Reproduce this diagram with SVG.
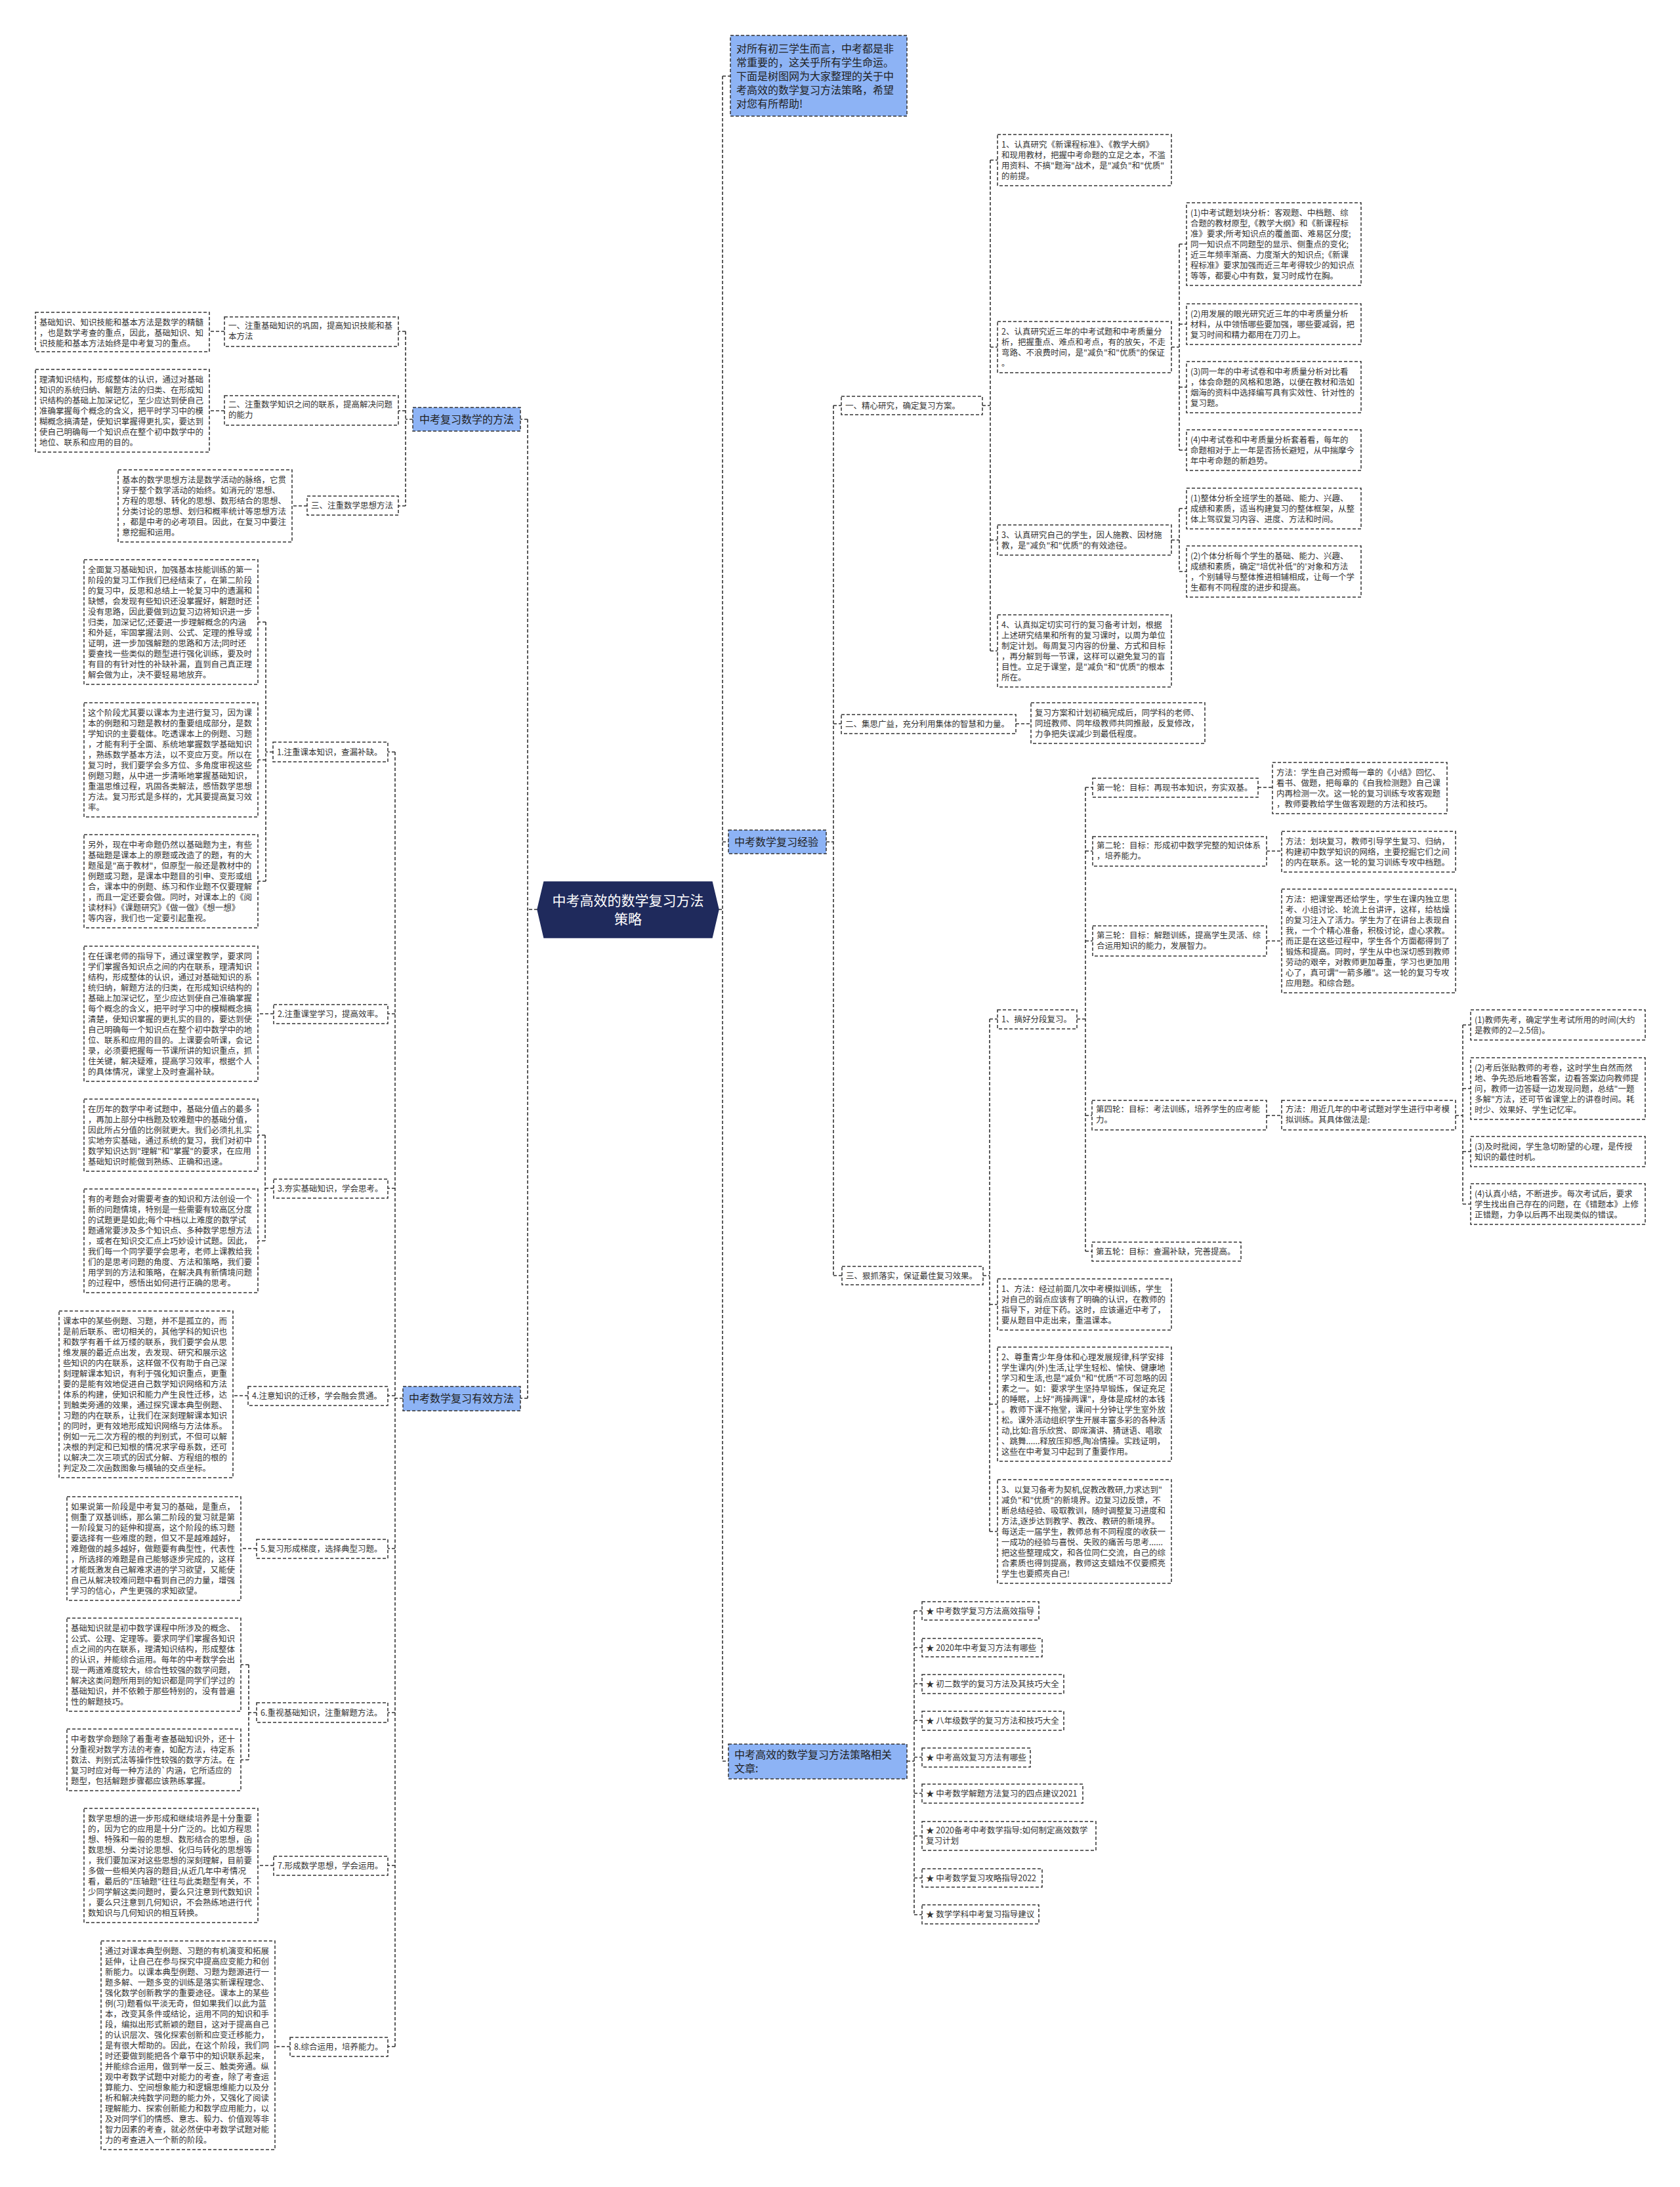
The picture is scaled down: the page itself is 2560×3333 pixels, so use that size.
<svg xmlns="http://www.w3.org/2000/svg" width="2560" height="3333" viewBox="0 0 2560 3333">
<style>
.n{fill:#fff;stroke:#333;stroke-width:1.5;stroke-dasharray:5 3}
.blue{fill:#8db3f5}
.t{font-family:"Noto Sans CJK SC","Microsoft YaHei",sans-serif;font-size:12.5px;fill:#333}
.h{font-size:16px;fill:#222}
.c{fill:none;stroke:#333;stroke-width:1.6;stroke-dasharray:5 3}
</style>
<rect width="2560" height="3333" fill="#fff"/>
<g id="connectors">
<path class="c" d="M1095 1386H1101M1101 116V2684M1101 116H1113M1101 1283H1110M1101 2684H1110"/>
<path class="c" d="M819 1386H804M804 639V2131M804 639H793M804 2131H793"/>
<path class="c" d="M629 639H618M618 505V771M618 505H607M618 626H607M618 771H607M342 505H319M342 626H319M468 771H445"/>
<path class="c" d="M614 2131H602M602 1146V3119M602 1146H591M602 1545H591M602 1811H591M602 2127H591M602 2360H591M602 2610H591M602 2843H591M602 3119H591"/>
<path class="c" d="M416 1146H405M405 948V1343M405 948H393M405 1158H393M405 1343H393M417 1545H393M417 1811H404M404 1730V1891M404 1730H393M404 1891H393M378 2127H355M391 2360H367M391 2610H379M379 2537V2682M379 2537H367M379 2682H367M417 2843H393M442 3119H419"/>
<path class="c" d="M1259 1283H1270M1270 618V1944M1270 618H1282M1270 1103H1282M1270 1944H1283"/>
<path class="c" d="M1497 618H1509M1509 244V992M1509 244H1520M1509 529H1520M1509 823H1520M1509 992H1520M1785 529H1797M1797 372V686M1797 372H1808M1797 494H1808M1797 590H1808M1797 686H1808M1785 823H1797M1797 775V871M1797 775H1808M1797 871H1808"/>
<path class="c" d="M1548 1103H1571"/>
<path class="c" d="M1498 1944H1508M1508 1553V2334M1508 1553H1520M1508 1988H1520M1508 2140H1520M1508 2334H1520"/>
<path class="c" d="M1641 1553H1654M1654 1200V1907M1654 1200H1665M1654 1297H1665M1654 1434H1665M1654 1700H1664M1654 1907H1664M1917 1200H1939M1930 1297H1953M1930 1434H1953M1930 1700H1953M2218 1700H2229M2229 1562V1835M2229 1562H2241M2229 1659H2241M2229 1755H2241M2229 1835H2241"/>
<path class="c" d="M1382 2684H1393M1393 2455V2918M1393 2455H1405M1393 2511H1405M1393 2566H1405M1393 2622H1405M1393 2678H1405M1393 2733H1405M1393 2798H1405M1393 2862H1405M1393 2918H1405"/>
</g>

<g id="center">
<polygon points="829,1344 1085,1344 1095,1386 1085,1429 829,1429 819,1386" fill="#1f2a5c" stroke="#1f2a5c" stroke-width="1.5"/>
<text class="t" x="957" y="1380" text-anchor="middle" style="font-size:21px;fill:#fff"><tspan x="957">中考高效的数学复习方法</tspan><tspan x="957" dy="28">策略</tspan></text>
</g>

<g id="intro">
<rect class="n blue" x="1113" y="54" width="269" height="123"/>
<text class="t h" x="1122" y="80"><tspan x="1122">对所有初三学生而言，中考都是非</tspan><tspan x="1122" dy="21">常重要的，这关乎所有学生命运。</tspan><tspan x="1122" dy="21">下面是树图网为大家整理的关于中</tspan><tspan x="1122" dy="21">考高效的数学复习方法策略，希望</tspan><tspan x="1122" dy="21">对您有所帮助!</tspan></text>
</g>

<!-- LEFT BRANCH 1 -->
<g id="L1">
<rect class="n blue" x="629" y="621" width="164" height="36"/>
<text class="t h" x="639" y="645">中考复习数学的方法</text>
</g>
<g id="L1a">
<rect class="n" x="342" y="483" width="265" height="45"/>
<text class="t" x="348" y="501"><tspan x="348">一、注重基础知识的巩固，提高知识技能和基</tspan><tspan x="348" dy="16">本方法</tspan></text>
</g>
<g id="L1a1">
<rect class="n" x="54" y="476" width="265" height="60"/>
<text class="t" x="60" y="496"><tspan x="60">基础知识、知识技能和基本方法是数学的精髓</tspan><tspan x="60" dy="16">，也是数学考查的重点，因此，基础知识、知</tspan><tspan x="60" dy="16">识技能和基本方法始终是中考复习的重点。</tspan></text>
</g>
<g id="L1b">
<rect class="n" x="342" y="603" width="265" height="45"/>
<text class="t" x="348" y="621"><tspan x="348">二、注重数学知识之间的联系，提高解决问题</tspan><tspan x="348" dy="16">的能力</tspan></text>
</g>
<g id="L1b1">
<rect class="n" x="54" y="563" width="265" height="126"/>
<text class="t" x="60" y="583"><tspan x="60">理清知识结构，形成整体的认识，通过对基础</tspan><tspan x="60" dy="16">知识的系统归纳、解题方法的归类、在形成知</tspan><tspan x="60" dy="16">识结构的基础上加深记忆，至少应达到使自己</tspan><tspan x="60" dy="16">准确掌握每个概念的含义，把平时学习中的模</tspan><tspan x="60" dy="16">糊概念搞清楚，使知识掌握得更扎实，要达到</tspan><tspan x="60" dy="16">使自己明确每一个知识点在整个初中数学中的</tspan><tspan x="60" dy="16">地位、联系和应用的目的。</tspan></text>
</g>
<g id="L1c">
<rect class="n" x="468" y="756" width="139" height="29"/>
<text class="t" x="474" y="775">三、注重数学思想方法</text>
</g>
<g id="L1c1">
<rect class="n" x="180" y="716" width="265" height="110"/>
<text class="t" x="186" y="736"><tspan x="186">基本的数学思想方法是数学活动的脉络，它贯</tspan><tspan x="186" dy="16">穿于整个数学活动的始终。如消元的'思想、</tspan><tspan x="186" dy="16">方程的思想、转化的思想、数形结合的思想、</tspan><tspan x="186" dy="16">分类讨论的思想、划归和概率统计等思想方法</tspan><tspan x="186" dy="16">，都是中考的必考项目。因此，在复习中要注</tspan><tspan x="186" dy="16">意挖掘和运用。</tspan></text>
</g>

<!-- LEFT BRANCH 2 -->
<g id="L2">
<rect class="n blue" x="614" y="2113" width="179" height="37"/>
<text class="t h" x="623" y="2137">中考数学复习有效方法</text>
</g>
<g id="S1">
<rect class="n" x="416" y="1131" width="175" height="30"/>
<text class="t" x="422" y="1151">1.注重课本知识，查漏补缺。</text>
</g>
<g id="T1a">
<rect class="n" x="128" y="853" width="265" height="190"/>
<text class="t" x="134" y="873"><tspan x="134">全面复习基础知识，加强基本技能训练的第一</tspan><tspan x="134" dy="16">阶段的复习工作我们已经结束了，在第二阶段</tspan><tspan x="134" dy="16">的复习中，反思和总结上一轮复习中的遗漏和</tspan><tspan x="134" dy="16">缺憾，会发现有些知识还没掌握好，解题时还</tspan><tspan x="134" dy="16">没有思路，因此要做到边复习边将知识进一步</tspan><tspan x="134" dy="16">归类，加深记忆;还要进一步理解概念的内涵</tspan><tspan x="134" dy="16">和外延，牢固掌握法则、公式、定理的推导或</tspan><tspan x="134" dy="16">证明，进一步加强解题的思路和方法;同时还</tspan><tspan x="134" dy="16">要查找一些类似的题型进行强化训练，要及时</tspan><tspan x="134" dy="16">有目的有针对性的补缺补漏，直到自己真正理</tspan><tspan x="134" dy="16">解会做为止，决不要轻易地放弃。</tspan></text>
</g>
<g id="T1b">
<rect class="n" x="128" y="1071" width="265" height="174"/>
<text class="t" x="134" y="1091"><tspan x="134">这个阶段尤其要以课本为主进行复习，因为课</tspan><tspan x="134" dy="16">本的例题和习题是教材的重要组成部分，是数</tspan><tspan x="134" dy="16">学知识的主要载体。吃透课本上的例题、习题</tspan><tspan x="134" dy="16">，才能有利于全面、系统地掌握数学基础知识</tspan><tspan x="134" dy="16">，熟练数学基本方法，以不变应万变。所以在</tspan><tspan x="134" dy="16">复习时，我们要学会多方位、多角度审视这些</tspan><tspan x="134" dy="16">例题习题，从中进一步清晰地掌握基础知识，</tspan><tspan x="134" dy="16">重温思维过程，巩固各类解法，感悟数学思想</tspan><tspan x="134" dy="16">方法。复习形式是多样的，尤其要提高复习效</tspan><tspan x="134" dy="16">率。</tspan></text>
</g>
<g id="T1c">
<rect class="n" x="128" y="1272" width="265" height="142"/>
<text class="t" x="134" y="1292"><tspan x="134">另外，现在中考命题仍然以基础题为主，有些</tspan><tspan x="134" dy="16">基础题是课本上的原题或改造了的题，有的大</tspan><tspan x="134" dy="16">题虽是"高于教材"，但原型一般还是教材中的</tspan><tspan x="134" dy="16">例题或习题，是课本中题目的引申、变形或组</tspan><tspan x="134" dy="16">合，课本中的例题、练习和作业题不仅要理解</tspan><tspan x="134" dy="16">，而且一定还要会做。同时，对课本上的《阅</tspan><tspan x="134" dy="16">读材料》《课题研究》《做一做》《想一想》</tspan><tspan x="134" dy="16">等内容，我们也一定要引起重视。</tspan></text>
</g>
<g id="S2">
<rect class="n" x="417" y="1531" width="174" height="29"/>
<text class="t" x="423" y="1550">2.注重课堂学习，提高效率。</text>
</g>
<g id="T2">
<rect class="n" x="128" y="1442" width="265" height="206"/>
<text class="t" x="134" y="1462"><tspan x="134">在任课老师的指导下，通过课堂教学，要求同</tspan><tspan x="134" dy="16">学们掌握各知识点之间的内在联系，理清知识</tspan><tspan x="134" dy="16">结构，形成整体的认识，通过对基础知识的系</tspan><tspan x="134" dy="16">统归纳，解题方法的归类，在形成知识结构的</tspan><tspan x="134" dy="16">基础上加深记忆，至少应达到使自己准确掌握</tspan><tspan x="134" dy="16">每个概念的含义，把平时学习中的模糊概念搞</tspan><tspan x="134" dy="16">清楚，使知识掌握的更扎实的目的，要达到使</tspan><tspan x="134" dy="16">自己明确每一个知识点在整个初中数学中的地</tspan><tspan x="134" dy="16">位、联系和应用的目的。上课要会听课，会记</tspan><tspan x="134" dy="16">录，必须要把握每一节课所讲的知识重点，抓</tspan><tspan x="134" dy="16">住关键，解决疑难，提高学习效率，根据个人</tspan><tspan x="134" dy="16">的具体情况，课堂上及时查漏补缺。</tspan></text>
</g>
<g id="S3">
<rect class="n" x="417" y="1797" width="174" height="29"/>
<text class="t" x="423" y="1816">3.夯实基础知识，学会思考。</text>
</g>
<g id="T3a">
<rect class="n" x="128" y="1675" width="265" height="110"/>
<text class="t" x="134" y="1695"><tspan x="134">在历年的数学中考试题中，基础分值占的最多</tspan><tspan x="134" dy="16">，再加上部分中档题及较难题中的基础分值，</tspan><tspan x="134" dy="16">因此所占分值的比例就更大。我们必须扎扎实</tspan><tspan x="134" dy="16">实地夯实基础，通过系统的复习，我们对初中</tspan><tspan x="134" dy="16">数学知识达到"理解"和"掌握"的要求，在应用</tspan><tspan x="134" dy="16">基础知识时能做到熟练、正确和迅速。</tspan></text>
</g>
<g id="T3b">
<rect class="n" x="128" y="1812" width="265" height="158"/>
<text class="t" x="134" y="1832"><tspan x="134">有的考题会对需要考查的知识和方法创设一个</tspan><tspan x="134" dy="16">新的问题情境，特别是一些需要有较高区分度</tspan><tspan x="134" dy="16">的试题更是如此;每个中档以上难度的数学试</tspan><tspan x="134" dy="16">题通常要涉及多个知识点、多种数学思想方法</tspan><tspan x="134" dy="16">，或者在知识交汇点上巧妙设计试题。因此，</tspan><tspan x="134" dy="16">我们每一个同学要学会思考，老师上课教给我</tspan><tspan x="134" dy="16">们的是思考问题的角度、方法和策略，我们要</tspan><tspan x="134" dy="16">用学到的方法和策略，在解决具有新情境问题</tspan><tspan x="134" dy="16">的过程中，感悟出如何进行正确的思考。</tspan></text>
</g>
<g id="S4">
<rect class="n" x="378" y="2113" width="213" height="29"/>
<text class="t" x="384" y="2132">4.注意知识的迁移，学会融会贯通。</text>
</g>
<g id="T4">
<rect class="n" x="90" y="1998" width="265" height="254"/>
<text class="t" x="96" y="2018"><tspan x="96">课本中的某些例题、习题，并不是孤立的，而</tspan><tspan x="96" dy="16">是前后联系、密切相关的，其他学科的知识也</tspan><tspan x="96" dy="16">和数学有着千丝万缕的联系，我们要学会从思</tspan><tspan x="96" dy="16">维发展的最近点出发，去发现、研究和展示这</tspan><tspan x="96" dy="16">些知识的内在联系，这样做不仅有助于自己深</tspan><tspan x="96" dy="16">刻理解课本知识，有利于强化知识重点，更重</tspan><tspan x="96" dy="16">要的是能有效地促进自己数学知识网络和方法</tspan><tspan x="96" dy="16">体系的构建，使知识和能力产生良性迁移，达</tspan><tspan x="96" dy="16">到触类旁通的效果，通过探究课本典型例题、</tspan><tspan x="96" dy="16">习题的内在联系，让我们在深刻理解课本知识</tspan><tspan x="96" dy="16">的同时，更有效地形成知识网络与方法体系。</tspan><tspan x="96" dy="16">例如一元二次方程的根的判别式，不但可以解</tspan><tspan x="96" dy="16">决根的判定和已知根的情况求字母系数，还可</tspan><tspan x="96" dy="16">以解决二次三项式的因式分解、方程组的根的</tspan><tspan x="96" dy="16">判定及二次函数图象与横轴的交点坐标。</tspan></text>
</g>
<g id="S5">
<rect class="n" x="391" y="2346" width="200" height="29"/>
<text class="t" x="397" y="2365">5.复习形成梯度，选择典型习题。</text>
</g>
<g id="T5">
<rect class="n" x="102" y="2281" width="265" height="158"/>
<text class="t" x="108" y="2301"><tspan x="108">如果说第一阶段是中考复习的基础，是重点，</tspan><tspan x="108" dy="16">侧重了双基训练，那么第二阶段的复习就是第</tspan><tspan x="108" dy="16">一阶段复习的延伸和提高，这个阶段的练习题</tspan><tspan x="108" dy="16">要选择有一些难度的题，但又不是越难越好，</tspan><tspan x="108" dy="16">难题做的越多越好，做题要有典型性，代表性</tspan><tspan x="108" dy="16">，所选择的难题是自己能够逐步完成的，这样</tspan><tspan x="108" dy="16">才能既激发自己解难求进的学习欲望，又能使</tspan><tspan x="108" dy="16">自己从解决较难问题中看到自己的力量，增强</tspan><tspan x="108" dy="16">学习的信心，产生更强的求知欲望。</tspan></text>
</g>
<g id="S6">
<rect class="n" x="391" y="2595" width="200" height="30"/>
<text class="t" x="397" y="2615">6.重视基础知识，注重解题方法。</text>
</g>
<g id="T6a">
<rect class="n" x="102" y="2466" width="265" height="142"/>
<text class="t" x="108" y="2486"><tspan x="108">基础知识就是初中数学课程中所涉及的概念、</tspan><tspan x="108" dy="16">公式、公理、定理等。要求同学们掌握各知识</tspan><tspan x="108" dy="16">点之间的内在联系，理清知识结构，形成整体</tspan><tspan x="108" dy="16">的认识，并能综合运用。每年的中考数学会出</tspan><tspan x="108" dy="16">现一两道难度较大，综合性较强的数学问题，</tspan><tspan x="108" dy="16">解决这类问题所用到的知识都是同学们学过的</tspan><tspan x="108" dy="16">基础知识，并不依赖于那些特别的，没有普遍</tspan><tspan x="108" dy="16">性的解题技巧。</tspan></text>
</g>
<g id="T6b">
<rect class="n" x="102" y="2635" width="265" height="94"/>
<text class="t" x="108" y="2655"><tspan x="108">中考数学命题除了着重考查基础知识外，还十</tspan><tspan x="108" dy="16">分重视对数学方法的考查，如配方法，待定系</tspan><tspan x="108" dy="16">数法、判别式法等操作性较强的数学方法。在</tspan><tspan x="108" dy="16">复习时应对每一种方法的`内涵，它所适应的</tspan><tspan x="108" dy="16">题型，包括解题步骤都应该熟练掌握。</tspan></text>
</g>
<g id="S7">
<rect class="n" x="417" y="2829" width="174" height="29"/>
<text class="t" x="423" y="2848">7.形成数学思想，学会运用。</text>
</g>
<g id="T7">
<rect class="n" x="128" y="2756" width="265" height="174"/>
<text class="t" x="134" y="2776"><tspan x="134">数学思想的进一步形成和继续培养是十分重要</tspan><tspan x="134" dy="16">的，因为它的应用是十分广泛的。比如方程思</tspan><tspan x="134" dy="16">想、特殊和一般的思想、数形结合的思想，函</tspan><tspan x="134" dy="16">数思想、分类讨论思想、化归与转化的思想等</tspan><tspan x="134" dy="16">，我们要加深对这些思想的深刻理解，目前要</tspan><tspan x="134" dy="16">多做一些相关内容的题目;从近几年中考情况</tspan><tspan x="134" dy="16">看，最后的"压轴题"往往与此类题型有关，不</tspan><tspan x="134" dy="16">少同学解这类问题时，要么只注意到代数知识</tspan><tspan x="134" dy="16">，要么只注意到几何知识，不会熟练地进行代</tspan><tspan x="134" dy="16">数知识与几何知识的相互转换。</tspan></text>
</g>
<g id="S8">
<rect class="n" x="442" y="3105" width="149" height="29"/>
<text class="t" x="448" y="3124">8.综合运用，培养能力。</text>
</g>
<g id="T8">
<rect class="n" x="154" y="2958" width="265" height="318"/>
<text class="t" x="160" y="2978"><tspan x="160">通过对课本典型例题、习题的有机演变和拓展</tspan><tspan x="160" dy="16">延伸，让自己在参与探究中提高应变能力和创</tspan><tspan x="160" dy="16">新能力。以课本典型例题、习题为题源进行一</tspan><tspan x="160" dy="16">题多解、一题多变的训练是落实新课程理念、</tspan><tspan x="160" dy="16">强化数学创新教学的重要途径。课本上的某些</tspan><tspan x="160" dy="16">例(习)题看似平淡无奇，但如果我们以此为蓝</tspan><tspan x="160" dy="16">本，改变其条件或结论，运用不同的知识和手</tspan><tspan x="160" dy="16">段，编拟出形式新颖的题目，这对于提高自己</tspan><tspan x="160" dy="16">的认识层次、强化探索创新和应变迁移能力，</tspan><tspan x="160" dy="16">是有很大帮助的。因此，在这个阶段，我们同</tspan><tspan x="160" dy="16">时还要做到能把各个章节中的知识联系起来，</tspan><tspan x="160" dy="16">并能综合运用，做到举一反三、触类旁通。纵</tspan><tspan x="160" dy="16">观中考数学试题中对能力的考查，除了考查运</tspan><tspan x="160" dy="16">算能力、空间想象能力和逻辑思维能力以及分</tspan><tspan x="160" dy="16">析和解决纯数学问题的能力外，又强化了阅读</tspan><tspan x="160" dy="16">理解能力、探索创新能力和数学应用能力，以</tspan><tspan x="160" dy="16">及对同学们的情感、意志、毅力、价值观等非</tspan><tspan x="160" dy="16">智力因素的考查，就必然使中考数学试题对能</tspan><tspan x="160" dy="16">力的考查进入一个新的阶段。</tspan></text>
</g>

<!-- RIGHT BRANCH -->
<g id="R">
<rect class="n blue" x="1110" y="1265" width="149" height="36"/>
<text class="t h" x="1119" y="1289">中考数学复习经验</text>
</g>
<g id="R1">
<rect class="n" x="1282" y="604" width="215" height="28"/>
<text class="t" x="1288" y="623">一、精心研究，确定复习方案。</text>
</g>
<g id="R1-1">
<rect class="n" x="1520" y="205" width="265" height="78"/>
<text class="t" x="1526" y="225"><tspan x="1526">1、认真研究《新课程标准》、《教学大纲》</tspan><tspan x="1526" dy="16">和现用教材，把握中考命题的立足之本，不滥</tspan><tspan x="1526" dy="16">用资料、不搞"题海"战术，是"减负"和"优质"</tspan><tspan x="1526" dy="16">的前提。</tspan></text>
</g>
<g id="R1-2">
<rect class="n" x="1520" y="490" width="265" height="78"/>
<text class="t" x="1526" y="510"><tspan x="1526">2、认真研究近三年的中考试题和中考质量分</tspan><tspan x="1526" dy="16">析，把握重点、难点和考点，有的放矢，不走</tspan><tspan x="1526" dy="16">弯路、不浪费时间，是"减负"和"优质"的保证</tspan><tspan x="1526" dy="16">。</tspan></text>
</g>
<g id="R1-2-1">
<rect class="n" x="1808" y="309" width="266" height="126"/>
<text class="t" x="1814" y="329"><tspan x="1814">(1)中考试题划块分析：客观题、中档题、综</tspan><tspan x="1814" dy="16">合题的教材原型,《教学大纲》和《新课程标</tspan><tspan x="1814" dy="16">准》要求;所考知识点的覆盖面、难易区分度;</tspan><tspan x="1814" dy="16">同一知识点不同题型的显示、侧重点的变化;</tspan><tspan x="1814" dy="16">近三年频率渐高、力度渐大的知识点;《新课</tspan><tspan x="1814" dy="16">程标准》要求加强而近三年考得较少的知识点</tspan><tspan x="1814" dy="16">等等，都要心中有数，复习时成竹在胸。</tspan></text>
</g>
<g id="R1-2-2">
<rect class="n" x="1808" y="463" width="266" height="62"/>
<text class="t" x="1814" y="483"><tspan x="1814">(2)用发展的眼光研究近三年的中考质量分析</tspan><tspan x="1814" dy="16">材料，从中领悟哪些要加强，哪些要减弱，把</tspan><tspan x="1814" dy="16">复习时间和精力都用在刀刃上。</tspan></text>
</g>
<g id="R1-2-3">
<rect class="n" x="1808" y="551" width="266" height="78"/>
<text class="t" x="1814" y="571"><tspan x="1814">(3)同一年的中考试卷和中考质量分析对比看</tspan><tspan x="1814" dy="16">，体会命题的风格和思路，以便在教材和浩如</tspan><tspan x="1814" dy="16">烟海的资料中选择编写具有实效性、针对性的</tspan><tspan x="1814" dy="16">复习题。</tspan></text>
</g>
<g id="R1-2-4">
<rect class="n" x="1808" y="655" width="266" height="62"/>
<text class="t" x="1814" y="675"><tspan x="1814">(4)中考试卷和中考质量分析套着看，每年的</tspan><tspan x="1814" dy="16">命题相对于上一年是否扬长避短，从中揣摩今</tspan><tspan x="1814" dy="16">年中考命题的新趋势。</tspan></text>
</g>
<g id="R1-3">
<rect class="n" x="1520" y="800" width="265" height="46"/>
<text class="t" x="1526" y="820"><tspan x="1526">3、认真研究自己的学生，因人施教、因材施</tspan><tspan x="1526" dy="16">教，是"减负"和"优质"的有效途径。</tspan></text>
</g>
<g id="R1-3-1">
<rect class="n" x="1808" y="744" width="266" height="62"/>
<text class="t" x="1814" y="764"><tspan x="1814">(1)整体分析全班学生的基础、能力、兴趣、</tspan><tspan x="1814" dy="16">成绩和素质，适当构建复习的整体框架，从整</tspan><tspan x="1814" dy="16">体上驾驭复习内容、进度、方法和时间。</tspan></text>
</g>
<g id="R1-3-2">
<rect class="n" x="1808" y="832" width="266" height="78"/>
<text class="t" x="1814" y="852"><tspan x="1814">(2)个体分析每个学生的基础、能力、兴趣、</tspan><tspan x="1814" dy="16">成绩和素质，确定"培优补低"的'对象和方法</tspan><tspan x="1814" dy="16">，个别辅导与整体推进相辅相成，让每一个学</tspan><tspan x="1814" dy="16">生都有不同程度的进步和提高。</tspan></text>
</g>
<g id="R1-4">
<rect class="n" x="1520" y="937" width="265" height="110"/>
<text class="t" x="1526" y="957"><tspan x="1526">4、认真拟定切实可行的复习备考计划，根据</tspan><tspan x="1526" dy="16">上述研究结果和所有的复习课时，以周为单位</tspan><tspan x="1526" dy="16">制定计划。每周复习内容的份量、方式和目标</tspan><tspan x="1526" dy="16">，再分解到每一节课，这样可以避免复习的盲</tspan><tspan x="1526" dy="16">目性。立足于课堂，是"减负"和"优质"的根本</tspan><tspan x="1526" dy="16">所在。</tspan></text>
</g>
<g id="R2">
<rect class="n" x="1282" y="1089" width="266" height="29"/>
<text class="t" x="1288" y="1108">二、集思广益，充分利用集体的智慧和力量。</text>
</g>
<g id="R2-1">
<rect class="n" x="1571" y="1071" width="265" height="62"/>
<text class="t" x="1577" y="1091"><tspan x="1577">复习方案和计划初稿完成后，同学科的老师、</tspan><tspan x="1577" dy="16">同班教师、同年级教师共同推敲，反复修改，</tspan><tspan x="1577" dy="16">力争把失误减少到最低程度。</tspan></text>
</g>
<g id="R3">
<rect class="n" x="1283" y="1930" width="215" height="28"/>
<text class="t" x="1289" y="1949">三、狠抓落实，保证最佳复习效果。</text>
</g>
<g id="R3-1">
<rect class="n" x="1520" y="1539" width="121" height="29"/>
<text class="t" x="1526" y="1558">1、搞好分段复习。</text>
</g>
<g id="W1">
<rect class="n" x="1665" y="1186" width="252" height="29"/>
<text class="t" x="1671" y="1205">第一轮：目标：再现书本知识，夯实双基。</text>
</g>
<g id="M1">
<rect class="n" x="1939" y="1162" width="266" height="78"/>
<text class="t" x="1945" y="1182"><tspan x="1945">方法：学生自己对照每一章的《小结》回忆、</tspan><tspan x="1945" dy="16">看书、做题，把每章的《自我检测题》自己课</tspan><tspan x="1945" dy="16">内再检测一次。这一轮的复习训练专攻客观题</tspan><tspan x="1945" dy="16">，教师要教给学生做客观题的方法和技巧。</tspan></text>
</g>
<g id="W2">
<rect class="n" x="1665" y="1275" width="265" height="45"/>
<text class="t" x="1671" y="1293"><tspan x="1671">第二轮：目标：形成初中数学完整的知识体系</tspan><tspan x="1671" dy="16">，培养能力。</tspan></text>
</g>
<g id="M2">
<rect class="n" x="1953" y="1267" width="265" height="62"/>
<text class="t" x="1959" y="1287"><tspan x="1959">方法：划块复习，教师引导学生复习、归纳，</tspan><tspan x="1959" dy="16">构建初中数学知识的网络，主要挖掘它们之间</tspan><tspan x="1959" dy="16">的内在联系。这一轮的复习训练专攻中档题。</tspan></text>
</g>
<g id="W3">
<rect class="n" x="1665" y="1411" width="265" height="46"/>
<text class="t" x="1671" y="1430"><tspan x="1671">第三轮：目标：解题训练，提高学生灵活、综</tspan><tspan x="1671" dy="16">合运用知识的能力，发展智力。</tspan></text>
</g>
<g id="M3">
<rect class="n" x="1953" y="1355" width="265" height="158"/>
<text class="t" x="1959" y="1375"><tspan x="1959">方法：把课堂再还给学生，学生在课内独立思</tspan><tspan x="1959" dy="16">考、小组讨论、轮流上台讲评，这样，给枯燥</tspan><tspan x="1959" dy="16">的复习注入了活力。学生为了在讲台上表现自</tspan><tspan x="1959" dy="16">我，一个个精心准备，积极讨论，虚心求教。</tspan><tspan x="1959" dy="16">而正是在这些过程中，学生各个方面都得到了</tspan><tspan x="1959" dy="16">锻炼和提高。同时，学生从中也深切感到教师</tspan><tspan x="1959" dy="16">劳动的艰辛，对教师更加尊重，学习也更加用</tspan><tspan x="1959" dy="16">心了，真可谓"一箭多雕"。这一轮的复习专攻</tspan><tspan x="1959" dy="16">应用题。和综合题。</tspan></text>
</g>
<g id="W4">
<rect class="n" x="1664" y="1677" width="266" height="45"/>
<text class="t" x="1670" y="1695"><tspan x="1670">第四轮：目标：考法训练，培养学生的应考能</tspan><tspan x="1670" dy="16">力。</tspan></text>
</g>
<g id="M4">
<rect class="n" x="1953" y="1677" width="265" height="45"/>
<text class="t" x="1959" y="1695"><tspan x="1959">方法：用近几年的中考试题对学生进行中考模</tspan><tspan x="1959" dy="16">拟训练。其具体做法是:</tspan></text>
</g>
<g id="P1">
<rect class="n" x="2241" y="1539" width="266" height="46"/>
<text class="t" x="2247" y="1559"><tspan x="2247">(1)教师先考，确定学生考试所用的时间(大约</tspan><tspan x="2247" dy="16">是教师的2—2.5倍)。</tspan></text>
</g>
<g id="P2">
<rect class="n" x="2241" y="1612" width="266" height="94"/>
<text class="t" x="2247" y="1632"><tspan x="2247">(2)考后张贴教师的考卷，这时学生自然而然</tspan><tspan x="2247" dy="16">地、争先恐后地看答案，边看答案边向教师提</tspan><tspan x="2247" dy="16">问，教师一边答疑一边发现问题，总结"一题</tspan><tspan x="2247" dy="16">多解"方法，还可节省课堂上的讲卷时间。耗</tspan><tspan x="2247" dy="16">时少、效果好、学生记忆牢。</tspan></text>
</g>
<g id="P3">
<rect class="n" x="2241" y="1732" width="266" height="46"/>
<text class="t" x="2247" y="1752"><tspan x="2247">(3)及时批阅，学生急切盼望的心理，是传授</tspan><tspan x="2247" dy="16">知识的最佳时机。</tspan></text>
</g>
<g id="P4">
<rect class="n" x="2241" y="1804" width="266" height="62"/>
<text class="t" x="2247" y="1824"><tspan x="2247">(4)认真小结，不断进步。每次考试后，要求</tspan><tspan x="2247" dy="16">学生找出自己存在的问题，在《错题本》上修</tspan><tspan x="2247" dy="16">正错题，力争以后再不出现类似的错误。</tspan></text>
</g>
<g id="W5">
<rect class="n" x="1664" y="1893" width="227" height="29"/>
<text class="t" x="1670" y="1912">第五轮：目标：查漏补缺，完善提高。</text>
</g>
<g id="R3-2">
<rect class="n" x="1520" y="1949" width="265" height="78"/>
<text class="t" x="1526" y="1969"><tspan x="1526">1、方法：经过前面几次中考模拟训练，学生</tspan><tspan x="1526" dy="16">对自己的弱点应该有了明确的认识，在教师的</tspan><tspan x="1526" dy="16">指导下，对症下药。这时，应该逼近中考了，</tspan><tspan x="1526" dy="16">要从题目中走出来，重温课本。</tspan></text>
</g>
<g id="R3-3">
<rect class="n" x="1520" y="2053" width="265" height="174"/>
<text class="t" x="1526" y="2073"><tspan x="1526">2、尊重青少年身体和心理发展规律,科学安排</tspan><tspan x="1526" dy="16">学生课内(外)生活,让学生轻松、愉快、健康地</tspan><tspan x="1526" dy="16">学习和生活,也是"减负"和"优质"不可忽略的因</tspan><tspan x="1526" dy="16">素之一。如：要求学生坚持早锻炼，保证充足</tspan><tspan x="1526" dy="16">的睡眠，上好"两操两课"，身体是成材的本钱</tspan><tspan x="1526" dy="16">。教师下课不拖堂，课间十分钟让学生室外放</tspan><tspan x="1526" dy="16">松。课外活动组织学生开展丰富多彩的各种活</tspan><tspan x="1526" dy="16">动,比如:音乐欣赏、即席演讲、猜谜语、唱歌</tspan><tspan x="1526" dy="16">、跳舞......释放压抑感,陶冶情操。实践证明，</tspan><tspan x="1526" dy="16">这些在中考复习中起到了重要作用。</tspan></text>
</g>
<g id="R3-4">
<rect class="n" x="1520" y="2255" width="265" height="158"/>
<text class="t" x="1526" y="2275"><tspan x="1526">3、以复习备考为契机,促教改教研,力求达到"</tspan><tspan x="1526" dy="16">减负"和"优质"的新境界。边复习边反馈，不</tspan><tspan x="1526" dy="16">断总结经验、吸取教训，随时调整复习进度和</tspan><tspan x="1526" dy="16">方法,逐步达到教学、教改、教研的新境界。</tspan><tspan x="1526" dy="16">每送走一届学生，教师总有不同程度的收获一</tspan><tspan x="1526" dy="16">一成功的经验与喜悦、失败的痛苦与思考......</tspan><tspan x="1526" dy="16">把这些整理成文，和各位同仁交流，自己的综</tspan><tspan x="1526" dy="16">合素质也得到提高，教师这支蜡烛不仅要照亮</tspan><tspan x="1526" dy="16">学生也要照亮自己!</tspan></text>
</g>

<!-- RELATED -->
<g id="RA">
<rect class="n blue" x="1110" y="2658" width="272" height="53"/>
<text class="t h" x="1119" y="2680"><tspan x="1119">中考高效的数学复习方法策略相关</tspan><tspan x="1119" dy="21">文章:</tspan></text>
</g>
<g id="A1"><rect class="n" x="1405" y="2441" width="178" height="28"/><text class="t" x="1411" y="2460">★ 中考数学复习方法高效指导</text></g>
<g id="A2"><rect class="n" x="1405" y="2497" width="183" height="28"/><text class="t" x="1411" y="2516">★ 2020年中考复习方法有哪些</text></g>
<g id="A3"><rect class="n" x="1405" y="2552" width="216" height="29"/><text class="t" x="1411" y="2571">★ 初二数学的复习方法及其技巧大全</text></g>
<g id="A4"><rect class="n" x="1405" y="2608" width="216" height="29"/><text class="t" x="1411" y="2627">★ 八年级数学的复习方法和技巧大全</text></g>
<g id="A5"><rect class="n" x="1405" y="2664" width="165" height="29"/><text class="t" x="1411" y="2683">★ 中考高效复习方法有哪些</text></g>
<g id="A6"><rect class="n" x="1405" y="2719" width="245" height="29"/><text class="t" x="1411" y="2738">★ 中考数学解题方法复习的四点建议2021</text></g>
<g id="A7"><rect class="n" x="1405" y="2776" width="265" height="44"/><text class="t" x="1411" y="2794"><tspan x="1411">★ 2020备考中考数学指导:如何制定高效数学</tspan><tspan x="1411" dy="16">复习计划</tspan></text></g>
<g id="A8"><rect class="n" x="1405" y="2848" width="183" height="28"/><text class="t" x="1411" y="2867">★ 中考数学复习攻略指导2022</text></g>
<g id="A9"><rect class="n" x="1405" y="2903" width="178" height="29"/><text class="t" x="1411" y="2922">★ 数学学科中考复习指导建议</text></g>
</svg>
